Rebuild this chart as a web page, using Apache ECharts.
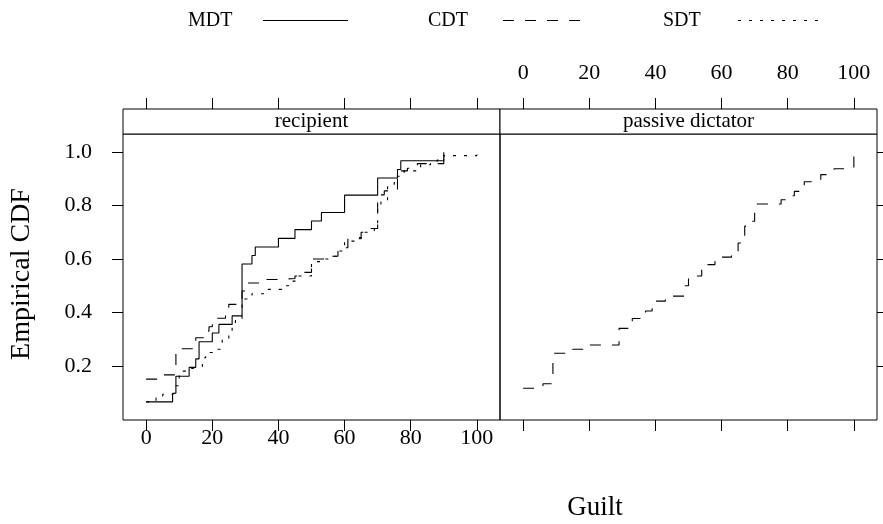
<!DOCTYPE html>
<html>
<head>
<meta charset="utf-8">
<script src="https://cdn.jsdelivr.net/npm/echarts@6/dist/echarts.min.js"></script>
<style>
  html, body { margin: 0; padding: 0; background: #fff; }
  #main { width: 883px; height: 524px; }
</style>
</head>
<body>
<div id="main"></div>
<script>
// ecdf steps (x = guilt, y = cumulative share)
var mdtX = [0, 8, 9, 13, 15, 16, 20, 22, 26, 29, 32, 33, 40, 45, 50, 53, 60, 70, 76, 77, 90];
var mdtY = [0.065, 0.097, 0.161, 0.194, 0.226, 0.290, 0.323, 0.355, 0.387, 0.581, 0.613, 0.645, 0.677, 0.710, 0.742, 0.774, 0.839, 0.903, 0.935, 0.968, 1.0];

var cdtX = [0, 5, 9, 14, 15, 18, 19, 20, 24, 25, 29, 30, 36, 40, 45, 47, 50, 54, 58, 61, 65, 68, 70, 72, 76, 79, 82, 90];
var cdtY = [0.150, 0.166, 0.264, 0.290, 0.305, 0.330, 0.346, 0.378, 0.405, 0.430, 0.480, 0.510, 0.523, 0.527, 0.536, 0.550, 0.600, 0.610, 0.642, 0.676, 0.700, 0.714, 0.840, 0.855, 0.930, 0.940, 0.957, 1.0];

var sdtX = [0, 3, 5, 8, 9, 10, 13, 14, 17, 18, 20, 23, 25, 26, 27, 29, 32, 36, 41, 44, 46, 50, 53, 56, 58, 60, 63, 66, 69, 70, 71, 73, 75, 76, 78, 83, 86, 88, 90, 100];
var sdtY = [0.065, 0.080, 0.093, 0.100, 0.125, 0.180, 0.190, 0.197, 0.230, 0.250, 0.262, 0.300, 0.324, 0.349, 0.375, 0.450, 0.470, 0.486, 0.500, 0.517, 0.536, 0.590, 0.600, 0.610, 0.630, 0.667, 0.680, 0.700, 0.730, 0.800, 0.820, 0.870, 0.886, 0.910, 0.930, 0.953, 0.962, 0.970, 0.987, 1.0];

// passive dictator panel, only CDT
var pasX = [0, 6, 9, 15, 20, 29, 32, 33, 36, 37, 39, 40, 43, 49, 50, 52, 54, 55, 58, 60, 63, 65, 66, 67, 68, 70, 78, 80, 82, 84, 85, 90, 92, 94, 100];
var pasY = [0.116, 0.133, 0.247, 0.262, 0.278, 0.340, 0.360, 0.377, 0.390, 0.405, 0.426, 0.442, 0.461, 0.500, 0.526, 0.536, 0.560, 0.579, 0.590, 0.607, 0.627, 0.660, 0.683, 0.723, 0.741, 0.806, 0.822, 0.837, 0.853, 0.862, 0.889, 0.916, 0.922, 0.938, 1.0];

var xTicks = [0, 20, 40, 60, 80, 100];
var yTicks = [0.2, 0.4, 0.6, 0.8, 1.0];
var panels = ['recipient', 'passive dictator'];

var font = 'Liberation Serif';
var L = 123, T = 134, W = 377, H = 286;

function pairs(xs, ys) {
    return xs.map(function (x, i) { return [x, ys[i]]; });
}

function xAx(grid, pos, labels) {
    return {
        type: 'value', gridIndex: grid, position: pos, min: -7, max: 107,
        offset: pos === 'top' ? 25 : 0,
        axisLine: { show: false, onZero: false },
        splitLine: { show: false },
        axisTick: { customValues: xTicks, length: 11, lineStyle: { color: '#000' } },
        axisLabel: {
            show: labels, customValues: xTicks, margin: pos === 'top' ? 25 : 7,
            color: '#000', fontFamily: font, fontSize: 22
        }
    };
}

function yAx(grid, pos, labels) {
    return {
        type: 'value', gridIndex: grid, position: pos, min: -0.003, max: 1.068,
        axisLine: { show: false, onZero: false },
        splitLine: { show: false },
        axisTick: { customValues: yTicks, length: 11, lineStyle: { color: '#000' } },
        axisLabel: {
            show: labels, customValues: yTicks, margin: 31,
            color: '#000', fontFamily: font, fontSize: 22,
            formatter: function (v) { return v.toFixed(1); }
        }
    };
}

function line(name, xi, yi, xs, ys, dash) {
    return {
        name: name, type: 'line', xAxisIndex: xi, yAxisIndex: yi,
        data: pairs(xs, ys), step: 'end', showSymbol: false, silent: true,
        lineStyle: { color: '#000', width: 1.1, type: dash }
    };
}

var graphics = [];
panels.forEach(function (p, i) {
    graphics.push({
        type: 'rect', shape: { x: L + i * W, y: T - 25, width: W, height: 25 },
        style: { fill: '#fff', stroke: '#000', lineWidth: 1 }
    });
    graphics.push({
        type: 'text', x: L + i * W + W / 2, y: T - 12.5,
        style: { text: p, font: '21px "' + font + '"', fill: '#000', align: 'center', verticalAlign: 'middle' }
    });
});

// key at the top
var keyItems = [
    { label: 'MDT', x: 188, dash: null },
    { label: 'CDT', x: 428, dash: [11, 11] },
    { label: 'SDT', x: 663, dash: [3, 8] }
];
keyItems.forEach(function (k) {
    graphics.push({
        type: 'text', x: k.x, y: 21,
        style: { text: k.label, font: '20px "' + font + '"', fill: '#000', align: 'left', verticalAlign: 'middle' }
    });
    graphics.push({
        type: 'line', shape: { x1: k.x + 75, y1: 20.5, x2: k.x + 160, y2: 20.5 },
        style: { stroke: '#000', lineWidth: 1, lineDash: k.dash }
    });
});

graphics.push({
    type: 'text', x: 595, y: 508,
    style: { text: 'Guilt', font: '27px "' + font + '"', fill: '#000', align: 'center', verticalAlign: 'middle' }
});
graphics.push({
    type: 'text', x: 22, y: T + H / 2 - 3, rotation: Math.PI / 2,
    style: { text: 'Empirical CDF', font: '28px "' + font + '"', fill: '#000', align: 'center', verticalAlign: 'middle' }
});

var myChart = echarts.init(document.getElementById('main'));
var option = {
    animation: false,
    backgroundColor: '#fff',
    grid: [
        { left: L, top: T, width: W, height: H, show: true, borderColor: '#000', borderWidth: 1, backgroundColor: 'transparent' },
        { left: L + W, top: T, width: W, height: H, show: true, borderColor: '#000', borderWidth: 1, backgroundColor: 'transparent' }
    ],
    xAxis: [xAx(0, 'bottom', true), xAx(0, 'top', false), xAx(1, 'bottom', false), xAx(1, 'top', true)],
    yAxis: [yAx(0, 'left', true), yAx(1, 'right', false)],
    series: [
        line('MDT', 0, 0, mdtX, mdtY, 'solid'),
        line('CDT', 0, 0, cdtX, cdtY, [11, 11]),
        line('SDT', 0, 0, sdtX, sdtY, [3, 8]),
        line('CDT', 3, 1, pasX, pasY, [11, 11])
    ],
    graphic: graphics
};
myChart.setOption(option);
</script>
</body>
</html>
